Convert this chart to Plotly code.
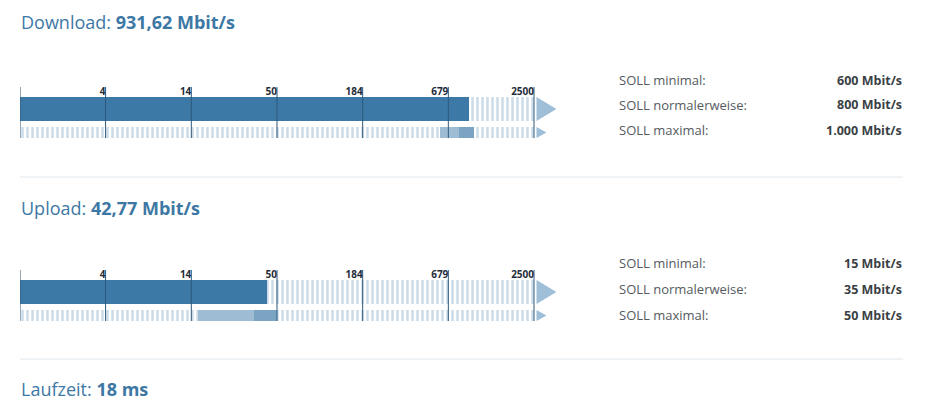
import math
import plotly.graph_objects as go

# ---- data ----
sections = ["Download", "Upload"]
measured = [931.62, 42.77]
measured_text = ["931,62 Mbit/s", "42,77 Mbit/s"]
soll_min = [600, 15]
soll_normal = [800, 35]
soll_max = [1000, 50]
soll_min_text = ["600 Mbit/s", "15 Mbit/s"]
soll_normal_text = ["800 Mbit/s", "35 Mbit/s"]
soll_max_text = ["1.000 Mbit/s", "50 Mbit/s"]
soll_names = ["SOLL minimal:", "SOLL normalerweise:", "SOLL maximal:"]
tick_values = [3.68, 13.57, 50, 184.2, 678.6, 2500]
tick_labels = ["4", "14", "50", "184", "679", "2500"]
scale_min = 1
scale_max = 2500
latency_text = "18 ms"

# the page body has an 8px margin, so the figure is drawn 8px in from the window corner
OFF = 8
W, H = 928 - OFF, 413 - OFF
FONT = "Open Sans"
DARK = "#3c79a6"
STRIPE = "#98b8d2"
BAND_LIGHT = "#9ebdd5"
BAND_DARK = "#7ba4c3"
TICK_LINE = "#2e5a7c"
HEAD = "#3d78a5"

# geometry in window pixels
block_top = [87, 270]
block_h = 51
head_y = [22, 208]
soll_y = [[80, 105, 130], [263, 289, 315]]
x_left, x_end, x_arrow = 20, 534, 556
log_max = math.log10(scale_max)
log_per_px = log_max / (x_end - x_left)


def px(xw):
    return (xw - OFF) / W


def py(yw):
    return 1 - (yw - OFF) / H


def px_to_val(xw):
    return 10 ** ((xw - x_left) * log_per_px)


fig = go.Figure()

for i, name in enumerate(sections):
    xa = "x" if i == 0 else "x2"
    ya = "y" if i == 0 else "y2"
    # striped background, both rows
    for yc, w in [(29, 24), (5.5, 11)]:
        fig.add_trace(go.Bar(
            x=[scale_max - scale_min], base=[scale_min], y=[yc], width=[w],
            orientation="h", xaxis=xa, yaxis=ya,
            marker=dict(color="white", line_width=0,
                        pattern=dict(shape="|", size=5, solidity=0.5,
                                     fgcolor=STRIPE, bgcolor="white")),
            hoverinfo="skip", showlegend=False))
    # measured value
    fig.add_trace(go.Bar(
        x=[measured[i] - scale_min], base=[scale_min], y=[29], width=[24],
        orientation="h", xaxis=xa, yaxis=ya,
        marker=dict(color=DARK, line_width=0), showlegend=False))
    # SOLL bands
    fig.add_trace(go.Bar(
        x=[soll_normal[i] - soll_min[i]], base=[soll_min[i]], y=[5.5], width=[11],
        orientation="h", xaxis=xa, yaxis=ya,
        marker=dict(color=BAND_LIGHT, line_width=0), showlegend=False))
    fig.add_trace(go.Bar(
        x=[soll_max[i] - soll_normal[i]], base=[soll_normal[i]], y=[5.5], width=[11],
        orientation="h", xaxis=xa, yaxis=ya,
        marker=dict(color=BAND_DARK, line_width=0), showlegend=False))
    # arrows at the end of the scale
    a0, a1, a2 = px_to_val(x_end + 2.5), px_to_val(x_arrow + 0.5), px_to_val(x_end + 12.5)
    fig.add_trace(go.Scatter(
        x=[a0, a1, a0, None, a0, a2, a0], y=[41, 29, 17, None, 11, 5.5, 0],
        fill="toself", fillcolor="#9fbed7", mode="lines", line=dict(width=0),
        xaxis=xa, yaxis=ya, hoverinfo="skip", showlegend=False))
    # tick lines incl. left edge
    lx, ly = [], []
    for v in [scale_min] + tick_values:
        lx += [v, v, None]
        ly += [0, block_h, None]
    fig.add_trace(go.Scatter(
        x=lx, y=ly, mode="lines", line=dict(color=TICK_LINE, width=1),
        xaxis=xa, yaxis=ya, hoverinfo="skip", showlegend=False))
    fig.add_trace(go.Scatter(
        x=tick_values, y=[45.5] * len(tick_values), mode="text",
        text=["<b>%s</b>" % t for t in tick_labels], textposition="middle left",
        textfont=dict(family=FONT, size=10, color="#1f2d3a"),
        xaxis=xa, yaxis=ya, hoverinfo="skip", showlegend=False))

annotations = []
for i, name in enumerate(sections):
    annotations.append(dict(
        text="%s: <b>%s</b>" % (name, measured_text[i]),
        x=px(x_left - 1), y=py(head_y[i]), xref="paper", yref="paper",
        xanchor="left", yanchor="middle", showarrow=False,
        font=dict(family=FONT, size=18, color=HEAD)))
    vals = [soll_min_text[i], soll_normal_text[i], soll_max_text[i]]
    for lbl, val, yy in zip(soll_names, vals, soll_y[i]):
        annotations.append(dict(
            text=lbl, x=px(617), y=py(yy), xref="paper", yref="paper",
            xanchor="left", yanchor="middle", showarrow=False,
            font=dict(family=FONT, size=13, color="#555a60")))
        annotations.append(dict(
            text="<b>%s</b>" % val, x=px(904), y=py(yy), xref="paper", yref="paper",
            xanchor="right", yanchor="middle", showarrow=False,
            font=dict(family=FONT, size=12.5, color="#3a3f45")))
annotations.append(dict(
    text="Laufzeit: <b>%s</b>" % latency_text,
    x=px(x_left - 1), y=py(389), xref="paper", yref="paper",
    xanchor="left", yanchor="middle", showarrow=False,
    font=dict(family=FONT, size=18, color=HEAD)))

shapes = [
    dict(type="line", xref="paper", yref="paper", x0=px(20), x1=px(903),
         y0=py(177), y1=py(177), line=dict(color="#e2e8ee", width=1)),
    dict(type="line", xref="paper", yref="paper", x0=px(20), x1=px(903),
         y0=py(359), y1=py(359), line=dict(color="#e2e8ee", width=1)),
]

x_dom = [px(x_left), px(x_arrow)]
x_rng = [0, (x_arrow - x_left) * log_per_px]
ax_common = dict(type="log", range=x_rng, domain=x_dom, visible=False, fixedrange=True)
fig.update_layout(
    width=W, height=H, margin=dict(l=0, r=0, t=0, b=0),
    paper_bgcolor="white", plot_bgcolor="rgba(0,0,0,0)",
    barmode="overlay", bargap=0,
    xaxis=dict(ax_common, anchor="y"),
    xaxis2=dict(ax_common, anchor="y2"),
    yaxis=dict(range=[0, block_h], visible=False, anchor="x",
               domain=[py(block_top[0] + block_h), py(block_top[0])]),
    yaxis2=dict(range=[0, block_h], visible=False, anchor="x2",
                domain=[py(block_top[1] + block_h), py(block_top[1])]),
    annotations=annotations, shapes=shapes,
    font=dict(family=FONT),
)

fig.write_html("out.html")
